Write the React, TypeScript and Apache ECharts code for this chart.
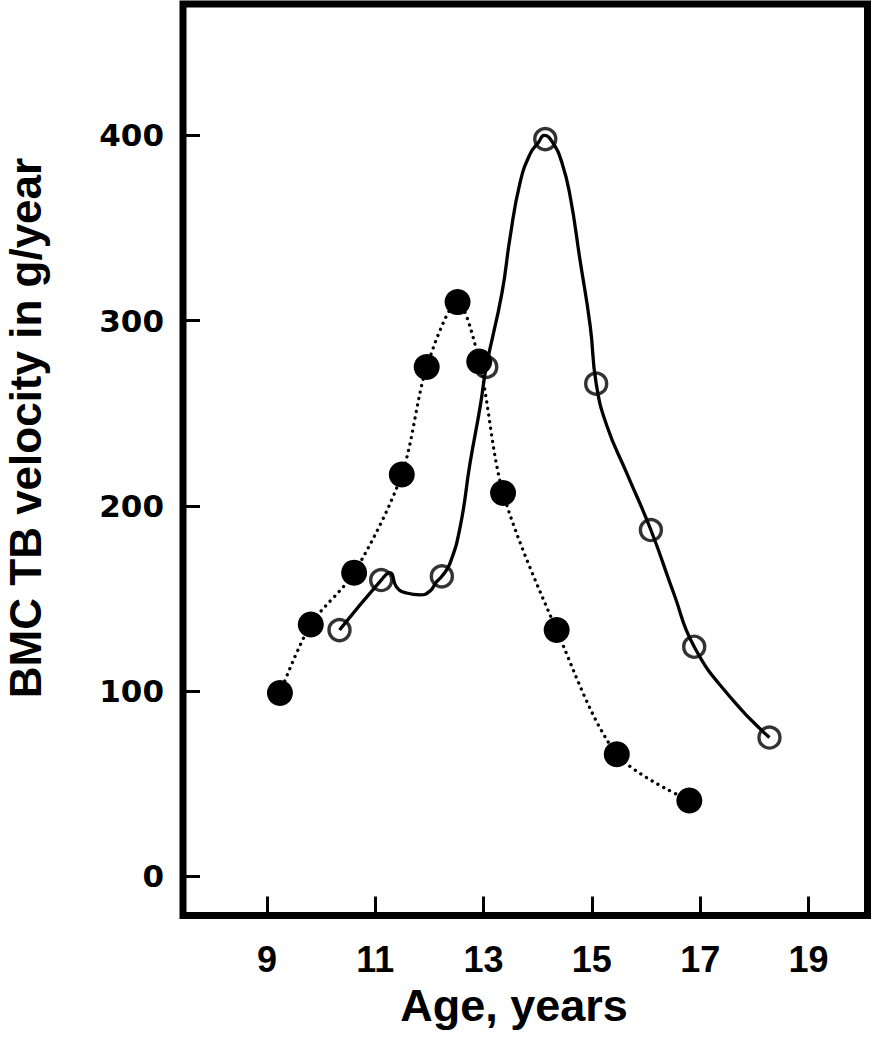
import React, { useEffect, useRef } from "react";
import * as echarts from "echarts";

// Filled circles (dotted line)
const filledAge = [9.24, 9.81, 10.61, 11.49, 11.95, 12.52, 12.92, 13.36, 14.35, 15.46, 16.8];
const filledVel = [99, 136, 164, 217, 275, 310, 278, 207, 133, 66, 41];

// Open circles (solid curve)
const openAge = [10.34, 11.11, 12.23, 13.05, 14.14, 15.08, 16.09, 16.89, 18.28];
const openVel = [133, 160, 162, 275, 398, 266, 187, 124, 75];

// Solid fitted curve
const curveAge = [10.34, 11.11, 11.27, 11.4, 11.58, 11.83, 12.01, 12.13, 12.23, 12.38, 12.57, 12.75, 12.94, 13.05, 13.34, 13.49, 13.67, 13.86, 14.01, 14.12, 14.28, 14.45, 14.6, 14.78, 14.97, 15.08, 15.28, 15.64, 16.09, 16.51, 16.89, 17.55, 18.28];
const curveVel = [133, 160, 164, 156, 153, 152, 154, 159, 162, 169, 189, 223, 254, 275, 315, 345, 374, 390, 396, 400, 396, 385, 367, 333, 297, 266, 243, 218, 187, 153, 124, 97, 75];

const xTicks = [9, 11, 13, 15, 17, 19];
const yTicks = [0, 100, 200, 300, 400];

const xTitle = "Age, years";
const yTitle = "BMC TB velocity in g/year";

export default function App() {
  const ref = useRef<HTMLDivElement>(null);
  useEffect(() => {
    if (!ref.current) return;
    const chart = echarts.init(ref.current, null, { renderer: "svg" });
    const pair = (xs: number[], ys: number[]) => xs.map((x, i) => [x, ys[i]]);
    chart.setOption({
      animation: false,
      backgroundColor: "#ffffff",
      grid: {
        left: 183,
        top: 4,
        right: 3.5,
        bottom: 134.5,
        show: true,
        borderColor: "#000",
        borderWidth: 7,
        backgroundColor: "transparent",
      },
      xAxis: {
        type: "value",
        min: 7.45,
        max: 20.09,
        axisLine: { show: false, onZero: false },
        splitLine: { show: false },
        axisTick: {
          show: true,
          inside: true,
          length: 19,
          lineStyle: { color: "#000", width: 3 },
          customValues: xTicks,
        },
        axisLabel: {
          show: true,
          margin: 26,
          color: "#000",
          fontFamily: "Liberation Sans, Arial, sans-serif",
          fontWeight: "bold",
          fontSize: 36,
          lineHeight: 36,
          customValues: xTicks,
        },
      },
      yAxis: {
        type: "value",
        min: -21.05,
        max: 470.9,
        axisLine: { show: false, onZero: false },
        splitLine: { show: false },
        axisTick: {
          show: true,
          inside: true,
          length: 17,
          lineStyle: { color: "#000", width: 3 },
          customValues: yTicks,
        },
        axisLabel: {
          show: true,
          margin: 19,
          color: "#000",
          fontFamily: "DejaVu Sans, sans-serif",
          fontWeight: "bold",
          fontSize: 31,
          customValues: yTicks,
        },
      },
      graphic: [
        {
          type: "text",
          x: 514,
          y: 1005,
          style: {
            text: xTitle,
            fill: "#000",
            font: "bold 45px 'Liberation Sans', Arial, sans-serif",
            lineHeight: 45,
            textAlign: "center",
            textVerticalAlign: "middle",
          },
        },
        {
          type: "text",
          x: 25,
          y: 428,
          rotation: Math.PI / 2,
          style: {
            text: yTitle,
            fill: "#000",
            font: "bold 44px 'Liberation Sans', Arial, sans-serif",
            textAlign: "center",
            textVerticalAlign: "middle",
          },
        },
      ],
      series: [
        {
          type: "line",
          data: pair(curveAge, curveVel),
          showSymbol: false,
          symbol: "none",
          smooth: 0.5,
          lineStyle: { color: "#000", width: 3.3 },
          z: 2,
        },
        {
          type: "line",
          data: pair(filledAge, filledVel),
          smooth: 0.3,
          symbol: "circle",
          symbolSize: 26,
          itemStyle: { color: "#000" },
          lineStyle: { color: "#000", width: 3.3, type: [0.1, 6.5], cap: "round" },
          z: 3,
        },
        {
          type: "scatter",
          data: pair(openAge, openVel),
          symbol: "circle",
          symbolSize: 21,
          itemStyle: { color: "rgba(255,255,255,0)", borderColor: "#000", borderWidth: 3.4 },
          z: 4,
        },
      ],
    });
    return () => chart.dispose();
  }, []);
  return (
    <div
      ref={ref}
      style={{ position: "fixed", left: 0, top: 0, width: 871, height: 1050, background: "#fff" }}
    />
  );
}
